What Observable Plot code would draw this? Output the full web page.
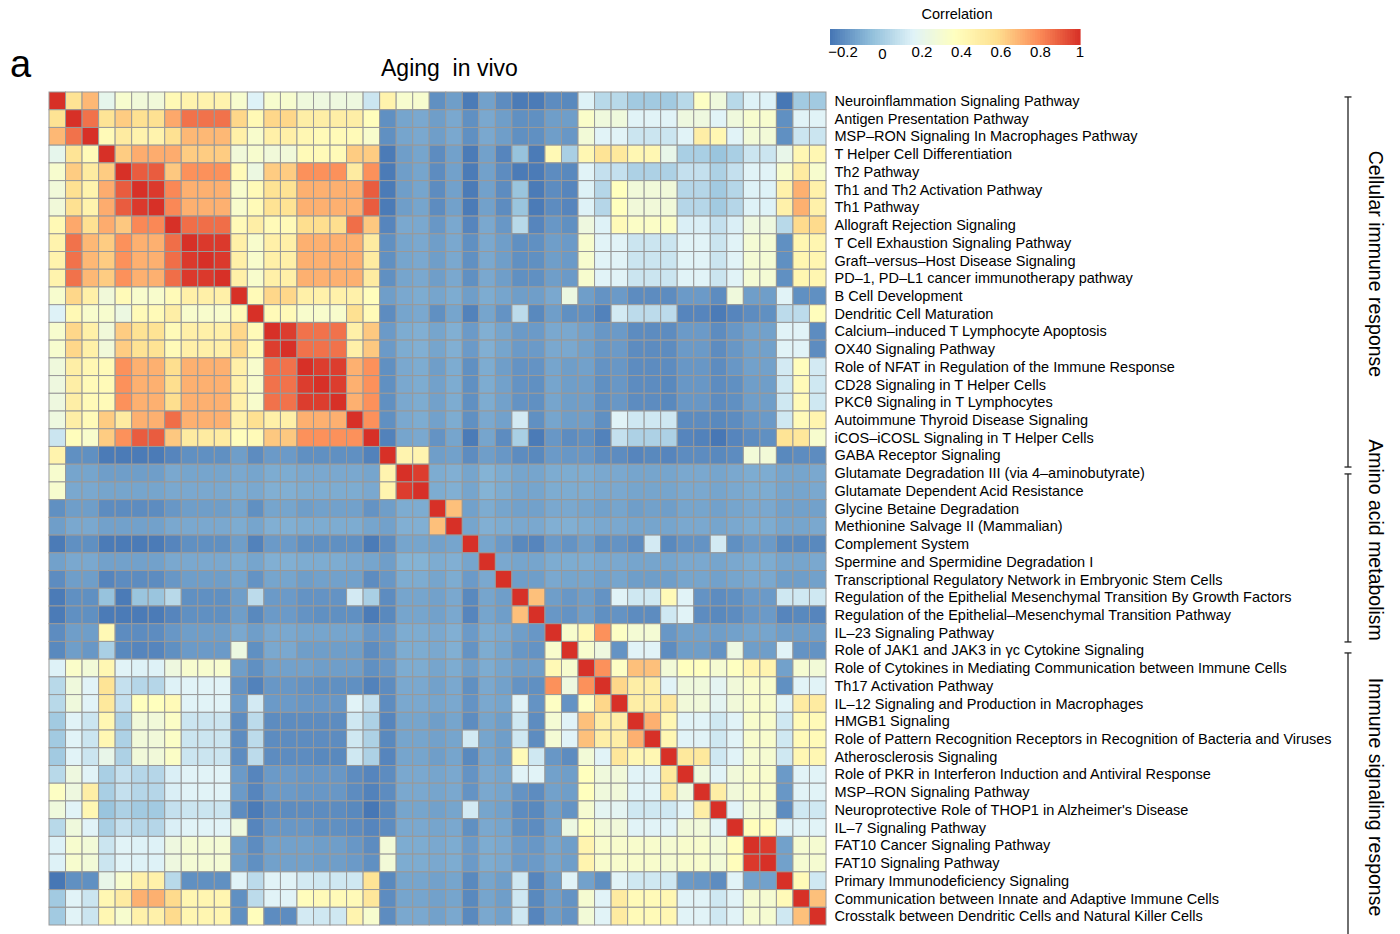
<!DOCTYPE html>
<html>
<head>
<meta charset="utf-8">
<script src="https://cdn.jsdelivr.net/npm/d3@7"></script>
<script src="https://cdn.jsdelivr.net/npm/@observablehq/plot@0.6"></script>
<style>
  html, body { margin: 0; padding: 0; background: #fff; }
  #chart svg { display: block; }
</style>
</head>
<body>
<div id="chart"></div>
<script>
// Pathway names, in row (and column) order of the correlation matrix
const pathways = [
  "Neuroinflammation Signaling Pathway",
  "Antigen Presentation Pathway",
  "MSP–RON Signaling In Macrophages Pathway",
  "T Helper Cell Differentiation",
  "Th2 Pathway",
  "Th1 and Th2 Activation Pathway",
  "Th1 Pathway",
  "Allograft Rejection Signaling",
  "T Cell Exhaustion Signaling Pathway",
  "Graft–versus–Host Disease Signaling",
  "PD–1, PD–L1 cancer immunotherapy pathway",
  "B Cell Development",
  "Dendritic Cell Maturation",
  "Calcium–induced T Lymphocyte Apoptosis",
  "OX40 Signaling Pathway",
  "Role of NFAT in Regulation of the Immune Response",
  "CD28 Signaling in T Helper Cells",
  "PKCθ Signaling in T Lymphocytes",
  "Autoimmune Thyroid Disease Signaling",
  "iCOS–iCOSL Signaling in T Helper Cells",
  "GABA Receptor Signaling",
  "Glutamate Degradation III (via 4–aminobutyrate)",
  "Glutamate Dependent Acid Resistance",
  "Glycine Betaine Degradation",
  "Methionine Salvage II (Mammalian)",
  "Complement System",
  "Spermine and Spermidine Degradation I",
  "Transcriptional Regulatory Network in Embryonic Stem Cells",
  "Regulation of the Epithelial Mesenchymal Transition By Growth Factors",
  "Regulation of the Epithelial–Mesenchymal Transition Pathway",
  "IL–23 Signaling Pathway",
  "Role of JAK1 and JAK3 in γc Cytokine Signaling",
  "Role of Cytokines in Mediating Communication between Immune Cells",
  "Th17 Activation Pathway",
  "IL–12 Signaling and Production in Macrophages",
  "HMGB1 Signaling",
  "Role of Pattern Recognition Receptors in Recognition of Bacteria and Viruses",
  "Atherosclerosis Signaling",
  "Role of PKR in Interferon Induction and Antiviral Response",
  "MSP–RON Signaling Pathway",
  "Neuroprotective Role of THOP1 in Alzheimer's Disease",
  "IL–7 Signaling Pathway",
  "FAT10 Cancer Signaling Pathway",
  "FAT10 Signaling Pathway",
  "Primary Immunodeficiency Signaling",
  "Communication between Innate and Adaptive Immune Cells",
  "Crosstalk between Dendritic Cells and Natural Killer Cells"
];

// Upper triangle of the symmetric correlation matrix: row i holds columns i..46
const upperTriangle = [
  [1, 0.56,0.68,0.2,0.31,0.27,0.27,0.41,0.45,0.45,0.45,0.31,0.15,0.31,0.31,0.26, 0.25,0.25,0.25,0.1,0.45,0.31,0.31,-0.19,-0.15,-0.25,-0.14,-0.2,-0.25,-0.25,-0.2,-0.21, 0.15,0.05,0.05,-0.01,-0.01,-0.01,0.05,0.35,0.26,0.05,0.15,0.15,-0.26,-0.01,-0.01],
  [1, 0.85,0.55,0.63,0.57,0.57,0.72,0.85,0.85,0.85,0.6,0.41,0.6,0.6,0.48, 0.48,0.48,0.48,0.38,-0.19,-0.13,-0.12,-0.15,-0.12,-0.19,-0.12,-0.15,-0.19,-0.19,-0.15,-0.15, 0.33,0.26,0.26,0.16,0.16,0.16,0.25,0.25,0.16,0.26,0.31,0.31,-0.19,0.16,0.16],
  [1, 0.4,0.5,0.45,0.45,0.57,0.68,0.68,0.68,0.47,0.32,0.47,0.47,0.42, 0.4,0.4,0.4,0.32,-0.19,-0.13,-0.12,-0.15,-0.12,-0.19,-0.12,-0.15,-0.19,-0.19,-0.15,-0.17, 0.28,0.16,0.16,0.1,0.1,0.1,0.16,0.48,0.42,0.16,0.28,0.28,-0.19,0.1,0.1],
  [1, 0.63,0.71,0.71,0.71,0.63,0.63,0.63,0.27,0.31,0.27,0.27,0.4, 0.4,0.4,0.63,0.63,-0.25,-0.15,-0.13,-0.2,-0.14,-0.25,-0.14,-0.22,-0.04,-0.25,0.41,0.01, 0.42,0.55,0.52,0.42,0.42,0.21,0.01,0.01,-0.03,0.01,0.1,0.1,0.21,0.42,0.42],
  [1, 0.9,0.9,0.64,0.78,0.78,0.78,0.4,0.24,0.63,0.63,0.78, 0.78,0.78,0.5,0.78,-0.25,-0.15,-0.13,-0.2,-0.14,-0.25,-0.14,-0.2,-0.25,-0.25,-0.2,-0.21, 0.16,0.08,0.08,0.02,0.02,0.02,0.08,0.08,0.02,0.08,0.16,0.16,0.31,0.5,0.31],
  [1, 0.98,0.8,0.7,0.7,0.7,0.32,0.4,0.56,0.56,0.7, 0.7,0.7,0.7,0.9,-0.25,-0.15,-0.13,-0.2,-0.14,-0.25,-0.14,-0.2,-0.03,-0.25,-0.2,-0.22, 0.15,0.04,0.37,0.27,0.27,0.27,0.04,0.04,-0.01,0.04,0.15,0.15,0.46,0.7,0.46],
  [1, 0.8,0.7,0.7,0.7,0.32,0.4,0.56,0.56,0.7, 0.7,0.7,0.7,0.9,-0.25,-0.15,-0.13,-0.2,-0.14,-0.25,-0.14,-0.2,-0.03,-0.25,-0.2,-0.22, 0.15,0.04,0.37,0.27,0.27,0.27,0.04,0.04,-0.01,0.04,0.15,0.15,0.46,0.7,0.46],
  [1, 0.86,0.86,0.86,0.4,0.48,0.4,0.4,0.58, 0.58,0.58,0.86,0.64,-0.22,-0.12,-0.12,-0.17,-0.12,-0.22,-0.12,-0.17,0.05,-0.22,-0.17,-0.19, 0.25,0.15,0.4,0.34,0.34,0.34,0.14,0.14,0.08,0.14,0.25,0.25,0.05,0.59,0.59],
  [1, 0.98,0.98,0.47,0.32,0.47,0.47,0.7, 0.7,0.7,0.7,0.5,-0.19,-0.13,-0.12,-0.15,-0.12,-0.19,-0.12,-0.15,-0.19,-0.19,-0.15,-0.16, 0.31,0.16,0.16,0.1,0.1,0.1,0.16,0.16,0.1,0.16,0.29,0.29,-0.19,0.43,0.43],
  [1, 0.98,0.47,0.32,0.47,0.47,0.7, 0.7,0.7,0.7,0.5,-0.19,-0.13,-0.12,-0.15,-0.12,-0.19,-0.12,-0.15,-0.19,-0.19,-0.15,-0.16, 0.31,0.16,0.16,0.1,0.1,0.1,0.16,0.16,0.1,0.16,0.29,0.29,-0.19,0.43,0.43],
  [1, 0.47,0.32,0.47,0.47,0.7, 0.7,0.7,0.7,0.5,-0.19,-0.13,-0.12,-0.15,-0.12,-0.19,-0.12,-0.15,-0.19,-0.19,-0.15,-0.16, 0.31,0.16,0.16,0.1,0.1,0.1,0.16,0.16,0.1,0.16,0.29,0.29,-0.19,0.43,0.43],
  [1, 0.4,0.6,0.6,0.47, 0.46,0.46,0.46,0.38,-0.15,-0.12,-0.11,-0.13,-0.11,-0.15,-0.11,-0.13,-0.15,-0.15,-0.12,0.24, -0.15,-0.18,-0.16,-0.2,-0.2,-0.2,-0.16,-0.16,-0.2,0.26,-0.15,-0.15,0.16,-0.19,-0.19],
  [1, 0.4,0.4,0.32, 0.32,0.32,0.57,0.4,-0.2,-0.13,-0.12,-0.19,-0.13,-0.23,-0.13,-0.18,0.06,-0.21,-0.15,-0.19, -0.19,-0.23,0.12,0.06,0.06,0.06,-0.22,-0.22,-0.25,-0.22,-0.2,-0.19,0.06,0.06,0.38],
  [1, 0.97,0.85, 0.85,0.85,0.47,0.64,-0.16,-0.11,-0.1,-0.13,-0.1,-0.16,-0.1,-0.13,-0.16,-0.16,-0.12,-0.12, -0.14,-0.17,-0.16,-0.2,-0.2,-0.2,-0.16,-0.16,-0.2,-0.17,-0.14,-0.14,0.16,0.16,-0.2],
  [1, 0.85, 0.85,0.85,0.47,0.64,-0.16,-0.11,-0.1,-0.13,-0.1,-0.16,-0.1,-0.13,-0.16,-0.16,-0.12,-0.12, -0.14,-0.17,-0.16,-0.2,-0.2,-0.2,-0.16,-0.16,-0.2,-0.17,-0.14,-0.14,0.16,0.16,-0.2],
  [1, 0.97,0.97,0.7,0.78,-0.19,-0.12,-0.11,-0.15,-0.11,-0.19,-0.11,-0.15,-0.18,-0.18,-0.13,-0.15, -0.14,-0.18,-0.17,-0.2,-0.2,-0.2,-0.17,-0.17,-0.2,-0.17,-0.14,-0.14,0.12,0.38,0.12],
  [1, 0.97,0.7,0.78,-0.19,-0.12,-0.11,-0.14,-0.11,-0.19,-0.11,-0.14,-0.18,-0.19,-0.13,-0.15, -0.15,-0.19,-0.17,-0.2,-0.2,-0.21,-0.17,-0.17,-0.2,-0.19,-0.15,-0.15,0.11,0.4,0.11],
  [1, 0.7,0.78,-0.19,-0.12,-0.11,-0.14,-0.11,-0.19,-0.11,-0.14,-0.18,-0.19,-0.13,-0.15, -0.15,-0.19,-0.17,-0.2,-0.2,-0.21,-0.17,-0.17,-0.2,-0.19,-0.15,-0.15,0.11,0.4,0.11],
  [1, 0.78,-0.19,-0.12,-0.11,-0.14,-0.11,-0.19,-0.12,-0.14,0.12,-0.19,-0.13,-0.15, -0.15,-0.19,0.16,0.11,0.11,0.11,-0.2,-0.2,-0.21,-0.2,-0.17,-0.16,0.11,0.4,0.44],
  [1, -0.23,-0.13,-0.12,-0.18,-0.13,-0.25,-0.13,-0.2,0.01,-0.25,-0.17,-0.2, -0.19,-0.23,0.08,0.02,0.02,0.02,-0.22,-0.23,-0.26,-0.22,-0.2,-0.19,0.55,0.53,0.31],
  [1, 0.44,0.44,-0.15,-0.14,-0.2,-0.15,-0.17,-0.2,-0.21,-0.16,-0.17, -0.17,-0.2,-0.2,-0.22,-0.21,-0.22,-0.2,-0.2,-0.21,-0.2,0.28,0.28,-0.21,-0.2,-0.2],
  [1, 0.97,-0.11,-0.1,-0.13,-0.09,-0.11,-0.13,-0.13,-0.11,-0.11, -0.11,-0.12,-0.12,-0.13,-0.13,-0.13,-0.12,-0.12,-0.13,-0.12,-0.11,-0.11,-0.13,-0.13,-0.12],
  [1, -0.11,-0.1,-0.13,-0.09,-0.11,-0.13,-0.13,-0.11,-0.11, -0.11,-0.12,-0.12,-0.13,-0.13,-0.13,-0.12,-0.12,-0.13,-0.12,-0.11,-0.11,-0.13,-0.13,-0.12],
  [1, 0.66,-0.14,-0.11,-0.13,-0.14,-0.14,-0.12,-0.12, -0.13,-0.14,-0.13,-0.15,-0.14,-0.15,-0.13,-0.13,-0.14,-0.13,-0.12,-0.12,-0.14,-0.14,-0.14],
  [1, -0.13,-0.1,-0.11,-0.12,-0.12,-0.1,-0.1, -0.11,-0.12,-0.12,-0.13,-0.13,-0.13,-0.12,-0.12,-0.13,-0.12,-0.11,-0.11,-0.13,-0.13,-0.12],
  [1, -0.13,-0.16,-0.21,-0.22,-0.16,-0.18, -0.15,-0.19,-0.18,-0.2,0.12,-0.21,-0.18,-0.18,0.12,-0.19,-0.16,-0.16,-0.21,-0.21,-0.21],
  [1, -0.12,-0.13,-0.13,-0.11,-0.11, -0.11,-0.12,-0.12,-0.13,-0.13,-0.13,-0.12,-0.12,-0.13,-0.12,-0.11,-0.11,-0.13,-0.13,-0.12],
  [1, -0.15,-0.15,-0.12,-0.13, -0.13,-0.14,-0.13,-0.15,-0.15,-0.15,-0.13,-0.13,-0.14,-0.13,-0.12,-0.12,-0.15,-0.15,-0.14],
  [1, 0.66,-0.15,-0.17, -0.15,-0.18,0.16,0.11,0.11,0.4,0.16,-0.18,-0.2,-0.19,-0.16,-0.16,0.11,0.11,0.11],
  [1, -0.17,-0.18, -0.15,-0.19,-0.18,-0.2,-0.2,0.11,0.16,-0.2,-0.21,-0.2,-0.17,-0.16,-0.22,-0.21,-0.22],
  [1, 0.32, 0.41,0.78,0.35,0.29,0.29,-0.17,-0.14,-0.14,-0.15,-0.14,-0.13,-0.13,-0.15,-0.15,-0.15],
  [1, 0.31,0.25,-0.18,0.16,0.16,-0.2,-0.15,-0.15,-0.18,0.24,-0.15,-0.15,0.16,-0.18,-0.18],
  [1, 0.78,0.35,0.66,0.66,0.28,0.37,0.37,0.3,0.36,0.44,0.44,-0.14,0.3,0.28],
  [1, 0.6,0.48,0.48,0.16,0.26,0.26,0.18,0.27,0.32,0.32,-0.19,0.16,0.16],
  [1, 0.48,0.48,0.53,0.27,0.27,0.18,0.27,0.32,0.32,0.16,0.5,0.5],
  [1, 0.7,0.42,0.16,0.16,0.11,0.16,0.32,0.32,0.11,0.4,0.4],
  [1, 0.42,0.16,0.16,0.11,0.16,0.32,0.32,0.11,0.4,0.4],
  [1, 0.52,0.52,0.11,0.16,0.3,0.3,0.11,0.42,0.42],
  [1, 0.26,0.16,0.27,0.32,0.32,-0.16,0.16,0.16],
  [1, 0.48,0.27,0.32,0.32,-0.17,0.16,0.16],
  [1, 0.16,0.28,0.28,-0.2,0.11,0.11],
  [1, 0.38,0.38,0.16,0.16,0.16],
  [1, 0.98,-0.14,0.3,0.3],
  [1, -0.14,0.3,0.3],
  [1, 0.4,0.11],
  [1, 0.66],
  [1]
];

// Row groups annotated on the right (extent and label centre in row units)
const groupLabels = ["Cellular immune response", "Amino acid metabolism", "Immune signaling response"];
const groupStart  = [0.28, 21.55, 31.65];
const groupEnd    = [21.16, 31.03, 48];
const groupCentre = [9.7, 25.28, 39.78];

// Colour legend
const legendTicks = [-0.2, 0, 0.2, 0.4, 0.6, 0.8, 1];
const palette = ["#4575B4", "#91BFDB", "#E0F3F8", "#FFFFBF", "#FEE090", "#FC8D59", "#D73027"];
const colorMin = -0.266, colorMax = 1;

const n = pathways.length;
const cells = [];
for (let i = 0; i < n; ++i) {
  for (let j = 0; j < n; ++j) {
    const value = j >= i ? upperTriangle[i][j - i] : upperTriangle[j][i - j];
    cells.push({row: i, col: j, value});
  }
}

const W = 1400, H = 934;
const gridLeft = 49, gridRight = 826, gridTop = 92, gridBottom = 925;
const font = "'Liberation Sans', Arial, Helvetica, sans-serif";
const stops = d3.range(palette.length).map(k => colorMin + k * (colorMax - colorMin) / (palette.length - 1));

const chart = Plot.plot({
  width: W,
  height: H,
  marginLeft: gridLeft,
  marginRight: W - gridRight,
  marginTop: gridTop,
  marginBottom: H - gridBottom,
  style: {fontFamily: font, fontSize: "14.5px", color: "#000", background: "#fff"},
  x: {type: "band", domain: d3.range(n), padding: 0, round: false, axis: null},
  y: {type: "band", domain: d3.range(n), padding: 0, round: false},
  color: {type: "linear", domain: stops, range: palette, interpolate: "rgb", clamp: true},
  marks: [
    Plot.cell(cells, {x: "col", y: "row", fill: "value", stroke: "#999999", strokeWidth: 1, inset: 0}),
    Plot.axisY({anchor: "right", tickSize: 0, tickPadding: 8, label: null, fontSize: 14.5, tickFormat: i => pathways[i]})
  ]
});

const svg = d3.select(chart);
const colorScale = chart.scale("color");
const rowY = r => gridTop + r * (gridBottom - gridTop) / n;

// Panel letter and title
svg.append("text")
  .attr("x", 10).attr("y", 77)
  .attr("text-anchor", "start")
  .attr("font-family", font).attr("font-size", 38).attr("fill", "#000")
  .text("a");
svg.append("text")
  .attr("x", 381).attr("y", 76)
  .attr("text-anchor", "start")
  .attr("font-family", font).attr("font-size", 23).attr("fill", "#000")
  .style("white-space", "pre")
  .text("Aging  in vivo");

// Colour bar legend
const barLeft = 830, barRight = 1080, barTop = 29, barBottom = 45;
const lx = d3.scaleLinear([colorMin, colorMax], [barLeft, barRight]);
const steps = 100;
const legend = svg.append("g");
legend.selectAll("rect")
  .data(d3.range(steps))
  .join("rect")
  .attr("x", k => barLeft + k * (barRight - barLeft) / steps)
  .attr("y", barTop)
  .attr("width", (barRight - barLeft) / steps + 0.6)
  .attr("height", barBottom - barTop)
  .attr("fill", k => colorScale.apply(colorMin + (k + 0.5) * (colorMax - colorMin) / steps));
legend.append("text")
  .attr("x", 957).attr("y", 19)
  .attr("text-anchor", "middle")
  .attr("font-family", font).attr("font-size", 14.5).attr("fill", "#000")
  .text("Correlation");
legend.selectAll("text.tick")
  .data(legendTicks)
  .join("text")
  .attr("class", "tick")
  .attr("x", d => lx(d))
  .attr("y", d => d === 0 ? 59 : 57)
  .attr("text-anchor", "middle")
  .attr("font-family", font).attr("font-size", 15).attr("fill", "#000")
  .text(d => d < 0 ? "\u2212" + Math.abs(d) : String(d));

// Group brackets on the right
const bracketX = 1348, capHalf = 3.5;
const brackets = svg.append("g").attr("stroke", "#222").attr("stroke-width", 1.3).attr("fill", "none");
groupLabels.forEach((label, k) => {
  const y0 = rowY(groupStart[k]), y1 = Math.min(rowY(groupEnd[k]), H + 5);
  brackets.append("line").attr("x1", bracketX).attr("x2", bracketX).attr("y1", y0).attr("y2", y1);
  brackets.append("line").attr("x1", bracketX - capHalf).attr("x2", bracketX + capHalf).attr("y1", y0).attr("y2", y0);
  if (y1 < H) brackets.append("line").attr("x1", bracketX - capHalf).attr("x2", bracketX + capHalf).attr("y1", y1).attr("y2", y1);
  svg.append("text")
    .attr("transform", `translate(1376,${rowY(groupCentre[k])}) rotate(90)`)
    .attr("text-anchor", "middle")
    .attr("dominant-baseline", "central")
    .attr("font-family", font).attr("font-size", 19.5).attr("fill", "#000")
    .text(label);
});

document.getElementById("chart").appendChild(chart);
</script>
</body>
</html>
